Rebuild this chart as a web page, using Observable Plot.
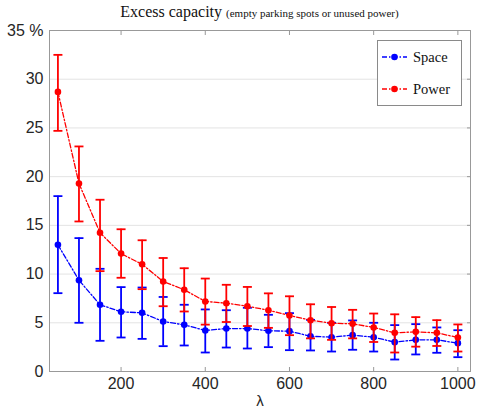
<!DOCTYPE html>
<html>
<head>
<meta charset="utf-8">
<script src="https://cdn.jsdelivr.net/npm/d3@7"></script>
<script src="https://cdn.jsdelivr.net/npm/@observablehq/plot@0.6"></script>
<style>
  body { margin: 0; background: white; }
  #wrap { position: relative; width: 478px; height: 409px; }
  #title { position: absolute; left: 49px; width: 421px; top: 3px; text-align: center;
    font-family: "Liberation Serif", serif; font-size: 16px; color: #111; white-space: nowrap; }
  #title span { font-size: 11px; }
  #legend { position: absolute; left: 377px; top: 40px; width: 83px; height: 64px;
    border: 1px solid #8a8a8a; background: white; font-family: "Liberation Serif", serif;
    font-size: 14.5px; color: #111; }
  .item { position: absolute; left: 4px; height: 16px; display: flex; align-items: center; }
  .item svg { margin-right: 6px; }
  svg [aria-label="x-axis label"] text { font-size: 15px; }
</style>
</head>
<body>
<div id="wrap">
  <div id="title">Excess capacity <span>(empty parking spots or unused power)</span></div>
</div>
<script>
const lambda = [50,100,150,200,250,300,350,400,450,500,550,600,650,700,750,800,850,900,950,1000];

const space   = [13.0, 9.37, 6.85, 6.13, 6.02, 5.13, 4.79, 4.21, 4.41, 4.41, 4.18, 4.14, 3.62, 3.52, 3.73, 3.52, 3.01, 3.25, 3.25, 2.91];
const spaceLo = [8.04, 5.0, 3.15, 3.49, 3.35, 2.6, 2.67, 1.95, 2.46, 2.36, 2.5, 2.19, 2.16, 2.05, 2.23, 2.05, 1.23, 1.75, 1.92, 1.47];
const spaceHi = [18.0, 13.69, 10.54, 8.66, 8.62, 7.65, 6.85, 6.37, 6.29, 6.54, 5.82, 5.99, 5.3, 5.0, 5.24, 5.0, 4.76, 4.86, 4.52, 4.24];

const power   = [28.7, 19.3, 14.24, 12.1, 11.0, 9.24, 8.39, 7.19, 7.01, 6.7, 6.29, 5.75, 5.26, 4.95, 4.9, 4.52, 3.97, 4.07, 3.97, 3.49];
const powerLo = [24.7, 15.4, 10.3, 9.62, 8.45, 6.7, 6.16, 4.81, 5.08, 4.67, 4.48, 3.73, 3.4, 3.25, 3.4, 3.03, 1.95, 2.55, 2.62, 2.05];
const powerHi = [32.5, 23.1, 17.63, 14.6, 13.47, 11.65, 10.6, 9.54, 8.9, 8.68, 8.02, 7.72, 6.9, 6.62, 6.33, 5.95, 5.87, 5.58, 5.27, 4.83];

const seriesNames = ["Space", "Power"];
const seriesColors = ["#0000ff", "#ff0000"];
const xTicks = [200, 400, 600, 800, 1000];
const yTicks = [0, 5, 10, 15, 20, 25, 30, 35];
const xLabel = "λ";

const spaceRows = lambda.map((l, i) => ({lambda: l, value: space[i], lo: spaceLo[i], hi: spaceHi[i]}));
const powerRows = lambda.map((l, i) => ({lambda: l, value: power[i], lo: powerLo[i], hi: powerHi[i]}));

const cap = {draw(context, size) { const w = Math.sqrt(size / Math.PI); context.moveTo(-w, 0); context.lineTo(w, 0); }};
const dash = "5,2,1.5,2";

function seriesMarks(rows, color) {
  return [
    Plot.ruleX(rows, {x: "lambda", y1: "lo", y2: "hi", stroke: color, strokeWidth: 1.8}),
    Plot.dot(rows, {x: "lambda", y: "lo", symbol: cap, r: 4.5, stroke: color, strokeWidth: 1.8, fill: "none"}),
    Plot.dot(rows, {x: "lambda", y: "hi", symbol: cap, r: 4.5, stroke: color, strokeWidth: 1.8, fill: "none"}),
    Plot.line(rows, {x: "lambda", y: "value", stroke: color, strokeWidth: 1.3, strokeDasharray: dash}),
    Plot.dot(rows, {x: "lambda", y: "value", r: 3.3, fill: color, stroke: "none"})
  ];
}

const chart = Plot.plot({
  width: 478,
  height: 409,
  marginTop: 30,
  marginBottom: 38,
  marginLeft: 49,
  marginRight: 8,
  style: {fontFamily: "'Liberation Sans', Arial, sans-serif", fontSize: "16px", color: "#262626", background: "white"},
  x: {domain: [30, 1030]},
  y: {domain: [0, 35]},
  marks: [
    Plot.gridY(yTicks.slice(1, -1), {stroke: "#e3e3e3", strokeOpacity: 1}),
    Plot.axisX(xTicks, {anchor: "bottom", tickSize: 0, tickPadding: 6, tickFormat: d => String(d), label: xLabel, labelAnchor: "center", labelArrow: "none", labelOffset: 34}),
    Plot.axisX(xTicks, {anchor: "bottom", tickSize: -4, tickFormat: () => "", label: null, stroke: "#999"}),
    Plot.axisX(xTicks, {anchor: "top", tickSize: -4, tickFormat: () => "", label: null, stroke: "#999"}),
    Plot.axisY(yTicks, {anchor: "left", tickSize: 0, tickPadding: 6, tickFormat: d => d === 35 ? "35 %" : String(d), label: null}),
    Plot.axisY(yTicks, {anchor: "right", tickSize: -4, tickFormat: () => "", label: null, stroke: "#999"}),
    Plot.frame({stroke: "#999"}),
    ...seriesMarks(spaceRows, seriesColors[0]),
    ...seriesMarks(powerRows, seriesColors[1])
  ]
});

const wrap = document.getElementById("wrap");
wrap.insertBefore(chart, wrap.firstChild);

// legend
const legend = document.createElement("div");
legend.id = "legend";
seriesNames.forEach((name, i) => {
  const item = document.createElement("div");
  item.className = "item";
  item.style.top = (i === 0 ? 8 : 40) + "px";
  const ns = "http://www.w3.org/2000/svg";
  const s = document.createElementNS(ns, "svg");
  s.setAttribute("width", 25); s.setAttribute("height", 10);
  const ln = document.createElementNS(ns, "line");
  ln.setAttribute("x1", 0); ln.setAttribute("x2", 25); ln.setAttribute("y1", 5); ln.setAttribute("y2", 5);
  ln.setAttribute("stroke", seriesColors[i]); ln.setAttribute("stroke-width", 1.3); ln.setAttribute("stroke-dasharray", dash);
  const c = document.createElementNS(ns, "circle");
  c.setAttribute("cx", 12.5); c.setAttribute("cy", 5); c.setAttribute("r", 3.3); c.setAttribute("fill", seriesColors[i]);
  s.appendChild(ln); s.appendChild(c);
  item.appendChild(s);
  const t = document.createElement("span");
  t.textContent = name;
  item.appendChild(t);
  legend.appendChild(item);
});
wrap.appendChild(legend);
</script>
</body>
</html>
